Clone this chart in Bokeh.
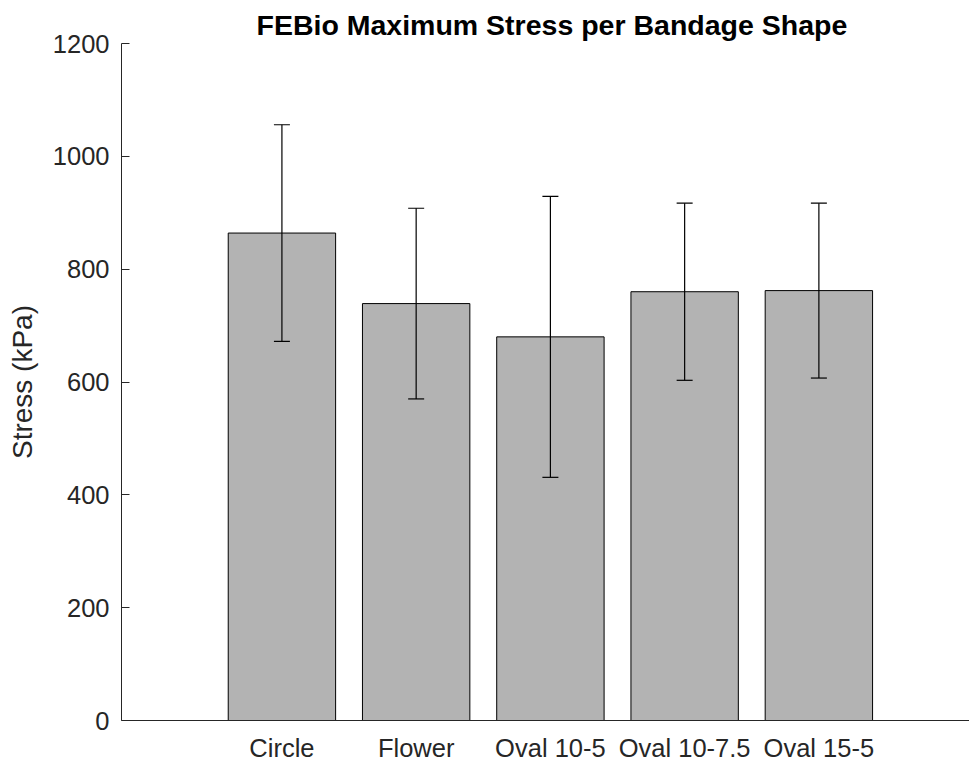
from bokeh.plotting import figure
from bokeh.models import Range1d, FixedTicker, ColumnDataSource, Whisker, TeeHead, Title
from bokeh.embed import file_html
from bokeh.resources import INLINE

# Data
shapes = ["Circle", "Flower", "Oval 10-5", "Oval 10-7.5", "Oval 15-5"]
positions = [1, 2, 3, 4, 5]
mean_stress = [864, 739, 680, 760, 762]
std_stress = [192, 169, 249, 157, 155]
y_ticks = [0, 200, 400, 600, 800, 1000, 1200]

upper = [m + s for m, s in zip(mean_stress, std_stress)]
lower = [m - s for m, s in zip(mean_stress, std_stress)]

src = ColumnDataSource(dict(x=positions, top=mean_stress, upper=upper, lower=lower))

FONT = "Liberation Sans"
TXT = "#262626"

p = figure(width=969, height=764, output_backend="svg", toolbar_location=None,
           x_range=Range1d(-0.195, 6.122), y_range=Range1d(0, 1200),
           min_border_left=121, min_border_right=0, min_border_top=43, min_border_bottom=43)
p.title = None
t = Title(text="FEBio Maximum Stress per Bandage Shape", align="left", offset=135,
          text_font=FONT, text_font_size="28.5px", text_font_style="bold",
          text_color="#000000", standoff=6)
p.add_layout(t, "above")

p.vbar(x="x", top="top", width=0.8, bottom=0, source=src,
       fill_color="#b3b3b3", line_color="#000000", line_width=1)

w = Whisker(base="x", upper="upper", lower="lower", source=src, level="overlay",
            line_color="#000000", line_width=1.2,
            upper_head=TeeHead(size=16, line_color="#000000", line_width=1.2),
            lower_head=TeeHead(size=16, line_color="#000000", line_width=1.2))
p.add_layout(w)

p.grid.visible = False
p.outline_line_color = None
p.background_fill_color = "white"
p.border_fill_color = "white"

p.xaxis.ticker = FixedTicker(ticks=positions)
p.xaxis.major_label_overrides = {pos: s for pos, s in zip(positions, shapes)}
p.yaxis.ticker = FixedTicker(ticks=y_ticks)

for ax in (p.xaxis[0], p.yaxis[0]):
    ax.axis_line_color = TXT
    ax.axis_line_width = 1
    ax.major_tick_line_color = TXT
    ax.minor_tick_line_color = None
    ax.major_label_text_font = FONT
    ax.major_label_text_font_size = "25.5px"
    ax.major_label_text_color = TXT

p.xaxis.major_tick_in = 0
p.xaxis.major_tick_out = 0
p.xaxis.major_label_standoff = 13

p.yaxis.major_tick_in = 8
p.yaxis.major_tick_out = 0
p.yaxis.major_label_standoff = 12
p.yaxis.axis_label = "Stress (kPa)"
p.yaxis.axis_label_text_font = FONT
p.yaxis.axis_label_text_font_size = "28px"
p.yaxis.axis_label_text_font_style = "normal"
p.yaxis.axis_label_text_color = TXT
p.yaxis.axis_label_standoff = 12

open("out.html", "w").write(file_html(p, INLINE))
